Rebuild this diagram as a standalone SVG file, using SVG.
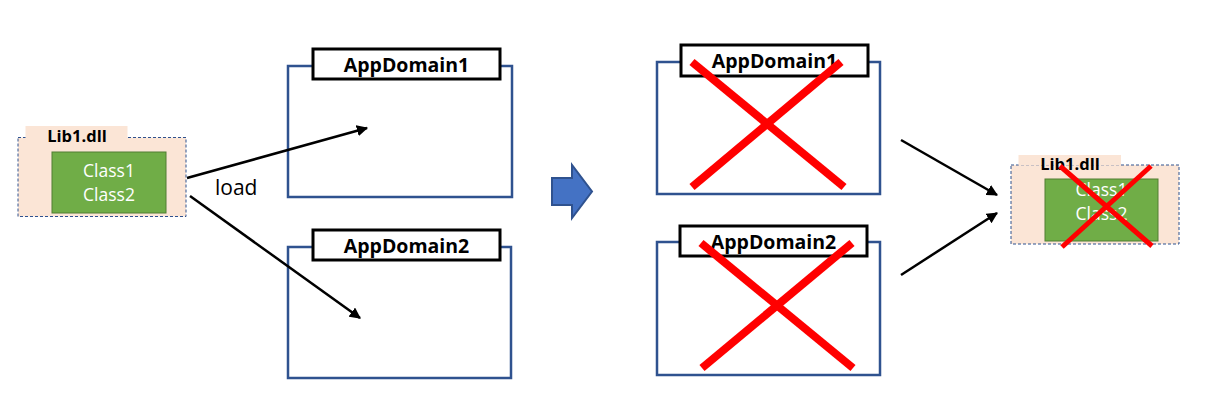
<svg xmlns="http://www.w3.org/2000/svg" width="1215" height="413" viewBox="0 0 1215 413">
<defs>
<style>
.tab{fill:#FBE5D6;}
.lib{fill:#FBE5D6;stroke:#2F528F;stroke-width:1;stroke-dasharray:3,2;}
.cls{fill:#70AD47;stroke:#507E32;stroke-width:1;}
.dom{fill:#fff;stroke:#2F528F;stroke-width:2.5;}
.lbl{fill:#fff;stroke:#000;stroke-width:3;}
.t{font-family:"Open Sans","Noto Sans",sans-serif;}
.bt{font-family:"Open Sans","Noto Sans",sans-serif;font-weight:bold;fill:#000;text-anchor:middle;}
.wt{font-family:"Open Sans","Noto Sans",sans-serif;fill:#fff;text-anchor:middle;font-size:17.5px;}
.x{stroke:#FF0000;stroke-width:8;stroke-linecap:butt;}
.conn{stroke:#000;stroke-width:2.5;fill:none;marker-end:url(#ah);}
</style>
<marker id="ah" viewBox="0 0 10 10" refX="9" refY="5" markerWidth="4.5" markerHeight="4.5" orient="auto" markerUnits="strokeWidth">
<path d="M0,0 L10,5 L0,10 z" fill="#000"/>
</marker>
</defs>
<rect width="1215" height="413" fill="#fff"/>

<g id="lib1-left">
<rect class="lib" x="18" y="137.5" width="168" height="79"/>
<rect class="tab" x="25.5" y="126" width="102" height="12.5"/>
<text class="bt" x="77" y="142" font-size="16.5">Lib1.dll</text>
<rect class="cls" x="52" y="152" width="114" height="61"/>
<text class="wt" x="109" y="177">Class1</text>
<text class="wt" x="109" y="201">Class2</text>
</g>

<g id="appdomain1-left">
<rect class="dom" x="288" y="66" width="224" height="131"/>
<rect class="lbl" x="313" y="49" width="187" height="30"/>
<text class="bt" x="406.5" y="71.5" font-size="19.5">AppDomain1</text>
</g>

<g id="appdomain2-left">
<rect class="dom" x="288" y="247" width="223" height="131"/>
<rect class="lbl" x="313" y="230" width="187" height="30"/>
<text class="bt" x="406.5" y="252.5" font-size="19.5">AppDomain2</text>
</g>

<g id="block-arrow">
<path d="M552,178 L572,178 L572,165 L592,191.5 L572,218 L572,205 L552,205 Z" fill="#4472C4" stroke="#2F528F" stroke-width="2"/>
</g>

<g id="appdomain1-right">
<rect class="dom" x="657" y="62" width="223" height="132"/>
<rect class="lbl" x="681" y="45" width="187" height="31"/>
<text class="bt" x="774.5" y="67.5" font-size="19.5">AppDomain1</text>
<line class="x" x1="692" y1="62" x2="844" y2="187"/>
<line class="x" x1="841" y1="62" x2="692" y2="187"/>
</g>

<g id="appdomain2-right">
<rect class="dom" x="657" y="242" width="223" height="133"/>
<rect class="lbl" x="680" y="226" width="187" height="30"/>
<text class="bt" x="773.5" y="248.5" font-size="19.5">AppDomain2</text>
<line class="x" x1="701" y1="243" x2="853" y2="368"/>
<line class="x" x1="852" y1="243" x2="702" y2="368"/>
</g>

<g id="lib1-right">
<rect class="lib" x="1011" y="165" width="168" height="79"/>
<rect class="tab" x="1018.5" y="155" width="102.5" height="10.5"/>
<text class="bt" x="1070" y="170" font-size="16.5">Lib1.dll</text>
<rect class="cls" x="1045" y="179" width="113" height="62"/>
<text class="wt" x="1101.5" y="196">Class1</text>
<text class="wt" x="1101.5" y="220">Class2</text>
<line x1="1060" y1="166" x2="1152" y2="246" stroke="#FF0000" stroke-width="5"/>
<line x1="1151" y1="166" x2="1062" y2="247" stroke="#FF0000" stroke-width="5"/>
</g>

<g id="connectors">
<line class="conn" x1="187" y1="178" x2="367" y2="128"/>
<line class="conn" x1="190" y1="196" x2="360" y2="318"/>
<line class="conn" x1="901" y1="140" x2="997" y2="195"/>
<line class="conn" x1="901" y1="275" x2="997" y2="213"/>
<text class="t" x="215" y="195" font-size="21" fill="#000">load</text>
</g>
</svg>
